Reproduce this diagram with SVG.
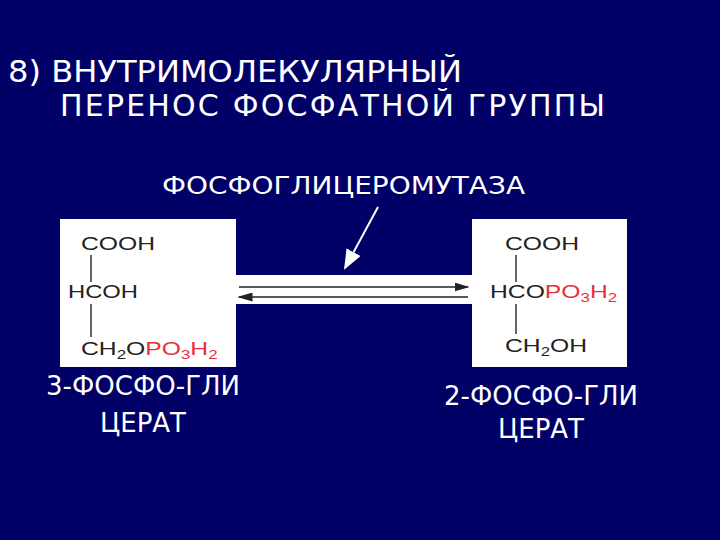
<svg xmlns="http://www.w3.org/2000/svg" width="720" height="540" viewBox="0 0 720 540">
<style>
.w{fill:#fff;font-family:"DejaVu Sans",sans-serif;font-size:28px}
.c{fill:#222;font-family:"Liberation Sans",Arial,sans-serif;font-size:19px}
.r{fill:#e8303a}
.s{font-size:13px}
.b{stroke:#333;stroke-width:1.5}
</style>
<defs>
<marker id="a" markerWidth="10" markerHeight="6" refX="9" refY="3" orient="auto"><path d="M0,0L10,3L0,6z" fill="#222"/></marker>
<marker id="wa" markerWidth="10" markerHeight="8" refX="9" refY="4" orient="auto"><path d="M0,0L10,4L0,8z" fill="#fff"/></marker>
</defs>
<rect width="720" height="540" fill="#000066"/>
<text class="w" x="8" y="82" style="font-size:30px" textLength="454" lengthAdjust="spacingAndGlyphs">8) ВНУТРИМОЛЕКУЛЯРНЫЙ</text>
<text class="w" x="60" y="116" style="font-size:30px" textLength="545" lengthAdjust="spacing">ПЕРЕНОС  ФОСФАТНОЙ  ГРУППЫ</text>
<text class="w" x="162" y="194" style="font-size:25px" textLength="363" lengthAdjust="spacingAndGlyphs">ФОСФОГЛИЦЕРОМУТАЗА</text>
<g id="left">
<rect x="60" y="219" width="176" height="148" fill="#fff"/>
<text class="c" x="81" y="250" textLength="74" lengthAdjust="spacingAndGlyphs">COOH</text>
<line class="b" x1="91" y1="255" x2="91" y2="282"/>
<text class="c" x="68" y="298" textLength="70" lengthAdjust="spacingAndGlyphs">HCOH</text>
<line class="b" x1="91" y1="304" x2="91" y2="337"/>
<text class="c" x="81" y="355" transform="translate(81 0) scale(1.3 1) translate(-81 0)">CH<tspan class="s" dy="4">2</tspan><tspan dy="-4">O</tspan><tspan class="r">PO<tspan class="s" dy="4">3</tspan><tspan dy="-4">H</tspan><tspan class="s" dy="4">2</tspan></tspan></text>
</g>
<g id="right">
<rect x="472" y="219" width="155" height="148" fill="#fff"/>
<text class="c" x="505" y="250" textLength="74" lengthAdjust="spacingAndGlyphs">COOH</text>
<line class="b" x1="516" y1="255" x2="516" y2="282"/>
<text class="c" x="490" y="298" transform="translate(490 0) scale(1.3 1) translate(-490 0)">HCO<tspan class="r">PO<tspan class="s" dy="4">3</tspan><tspan dy="-4">H</tspan><tspan class="s" dy="4">2</tspan></tspan></text>
<line class="b" x1="516" y1="304" x2="516" y2="334"/>
<text class="c" x="505" y="352" transform="translate(505 0) scale(1.3 1) translate(-505 0)">CH<tspan class="s" dy="4">2</tspan><tspan dy="-4">OH</tspan></text>
</g>
<g id="connectors">
<rect x="236" y="275" width="236" height="29" fill="#fff"/>
<line x1="239" y1="287" x2="468" y2="287" stroke="#222" stroke-width="1.5" marker-end="url(#a)"/>
<line x1="468" y1="297" x2="239" y2="297" stroke="#222" stroke-width="1.5" marker-end="url(#a)"/>
<line x1="378" y1="207" x2="345" y2="268" stroke="#fff" stroke-width="2" marker-end="url(#wa)"/>
</g>
<text class="w" x="143" y="395" text-anchor="middle" style="font-size:26px">3-ФОСФО-ГЛИ</text>
<text class="w" x="143" y="432" text-anchor="middle" style="font-size:26px">ЦЕРАТ</text>
<text class="w" x="541" y="405" text-anchor="middle" style="font-size:26px">2-ФОСФО-ГЛИ</text>
<text class="w" x="541" y="438" text-anchor="middle" style="font-size:26px">ЦЕРАТ</text>
</svg>
